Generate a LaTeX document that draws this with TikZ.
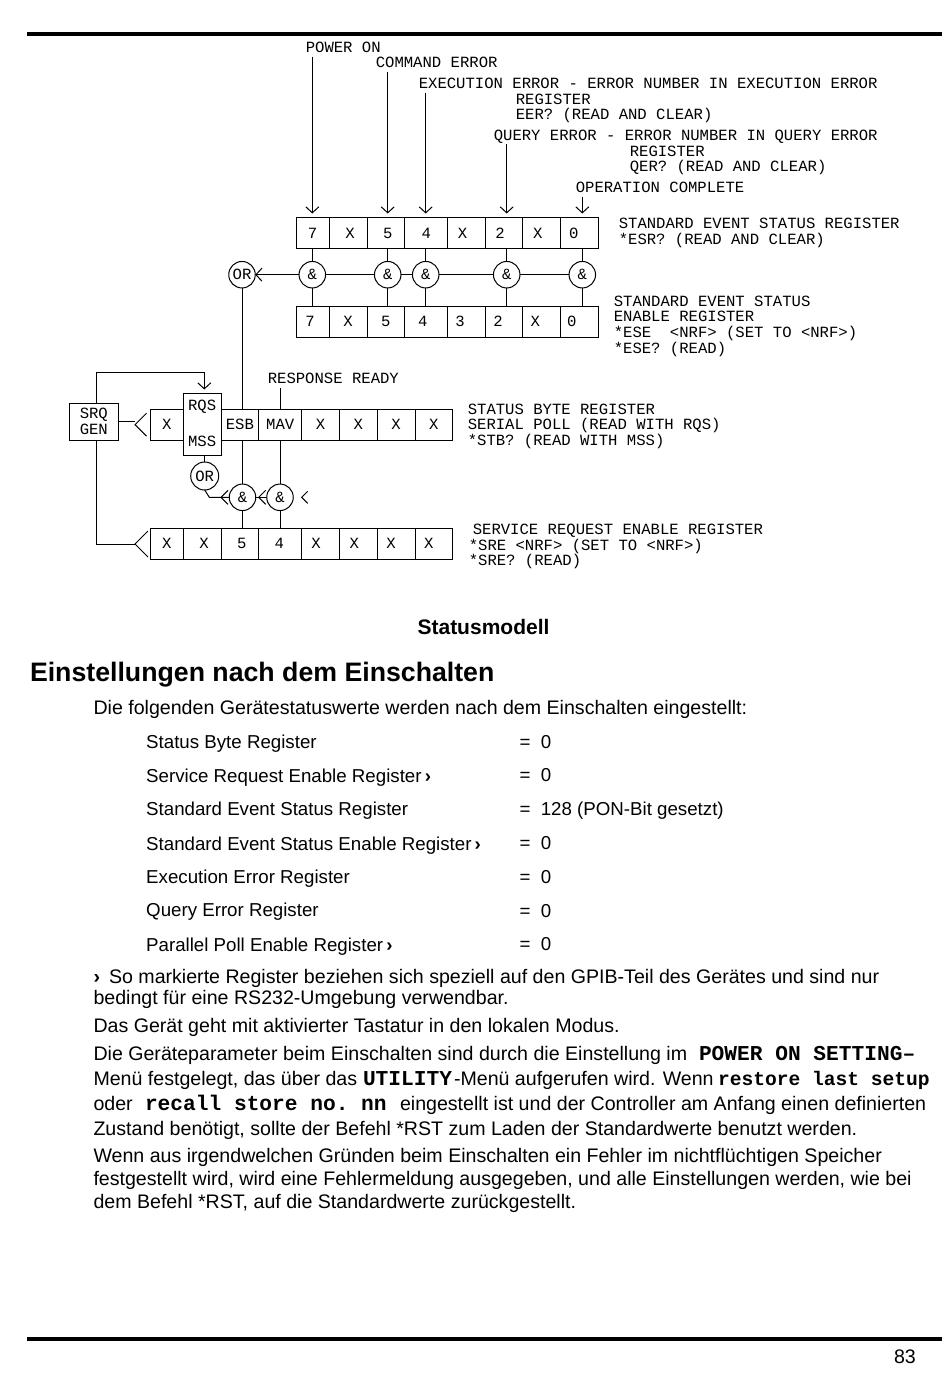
\documentclass[tikz,border=0pt]{standalone}
\usepackage{fontspec}
\setmainfont{Liberation Sans}
\setmonofont{Liberation Mono}
\usetikzlibrary{positioning, arrows.meta}
\newcommand{\dgmfont}{\fontsize{15.6}{16}\selectfont\ttfamily}
\newcommand{\menufont}{\fontsize{21.2}{24}\selectfont\ttfamily\bfseries}
\newcommand{\menusmall}{\fontsize{19.6}{24}\selectfont\ttfamily\bfseries}

\begin{document}
\begin{tikzpicture}[
  x=1pt, y=-1pt,
  line width=1pt,
  tallcell/.style={draw, outer sep=0pt, inner sep=0pt, minimum width=#1, font=\dgmfont, align=center},
  cell/.style={tallcell=#1, minimum height=31pt, text height=10pt, text depth=0pt},
  gate/.style={draw, circle, outer sep=0pt, inner sep=0pt, minimum size=26.5pt, font=\dgmfont},
  dgmtext/.style={anchor=base west, inner sep=0pt, font=\dgmfont},
  listtext/.style={anchor=base west, inner sep=0pt, font=\fontsize{18.7}{22}\selectfont},
  bodytext/.style={anchor=base west, inner sep=0pt, font=\fontsize{19.6}{22}\selectfont},
  vee/.style={-{Straight Barb[length=6pt, width=13pt]}},
  barb/.pic={\draw (#1,-#1) -- (0,0) -- (#1,#1);}
]
\useasboundingbox (0,0) rectangle (950,1387);

% rules
\coordinate (topl) at (27,34);
\coordinate (topr) at (942,34);
\coordinate (botl) at (27,1339);
\coordinate (botr) at (942,1339);
\draw[line width=4pt] (topl) -- (topr);
\draw[line width=4pt] (botl) -- (botr);

% standard event status register
\node[cell=32.7pt, anchor=west] (esr7) at (296.3,233) {7};
\node[cell=38pt, right=0pt of esr7] (esr6) {\kern4pt X};
\node[cell=37.7pt, right=0pt of esr6] (esr5) {\kern4pt 5};
\node[cell=43pt, right=0pt of esr5] (esr4) {4};
\node[cell=37.6pt, right=0pt of esr4] (esr3) {X\kern8pt};
\node[cell=37.4pt, right=0pt of esr3] (esr2) {2\kern8pt};
\node[cell=38pt, right=0pt of esr2] (esr1) {X\kern8pt};
\node[cell=38pt, right=0pt of esr1] (esr0) {0\kern12pt};

% enable register
\node[cell=32.7pt, anchor=west] (ese7) at (296.3,321.7) {7\kern5pt};
\node[cell=38pt, right=0pt of ese7] (ese6) {X};
\node[cell=37.7pt, right=0pt of ese6] (ese5) {5};
\node[cell=43pt, right=0pt of ese5] (ese4) {4\kern7pt};
\node[cell=37.6pt, right=0pt of ese4] (ese3) {3\kern13pt};
\node[cell=37.4pt, right=0pt of ese3] (ese2) {2\kern12pt};
\node[cell=38pt, right=0pt of ese2] (ese1) {X\kern13pt};
\node[cell=38pt, right=0pt of ese1] (ese0) {0\kern16pt};

% gates between them
\node[gate] (and7) at (312.3,274.7) {\&};
\node[gate] (and5) at (387.7,274.7) {\&};
\node[gate] (and4) at (425.7,274.7) {\&};
\node[gate] (and2) at (506.7,274.7) {\&};
\node[gate] (and0) at (582.3,274.7) {\&};
\node[gate] (oresb) at (242,274.7) {OR};

% status byte register
\node[cell=33pt, anchor=west] (stb7) at (150.3,424.7) {X};
\node[tallcell=37.7pt, minimum height=62.4pt, text depth=3pt, right=0pt of stb7] (rqs) {RQS\\[20pt]MSS};
\node[cell=37.7pt, right=0pt of rqs] (esb) {ESB};
\node[cell=43pt, right=0pt of esb] (mav) {MAV};
\node[cell=37.6pt, right=0pt of mav] (stb3) {X};
\node[cell=38pt, right=0pt of stb3] (stb2) {X};
\node[cell=37.7pt, right=0pt of stb2] (stb1) {X};
\node[cell=37.7pt, right=0pt of stb1] (stb0) {X};
\node[tallcell=49pt, minimum height=37pt, anchor=west] (srq) at (69.3,421.7) {SRQ\\GEN};

% service request enable register
\node[cell=33pt, anchor=west] (sre7) at (150.3,543.8) {X};
\node[cell=37.7pt, right=0pt of sre7] (sre6) {\kern4pt X};
\node[cell=37.7pt, right=0pt of sre6] (sre5) {\kern4pt 5};
\node[cell=43pt, right=0pt of sre5] (sre4) {4\kern2pt};
\node[cell=37.6pt, right=0pt of sre4] (sre3) {X\kern9pt};
\node[cell=38pt, right=0pt of sre3] (sre2) {X\kern8pt};
\node[cell=37.7pt, right=0pt of sre2] (sre1) {X\kern10pt};
\node[cell=37.7pt, right=0pt of sre1] (sre0) {X\kern10pt};

% gates of the status byte
\node[gate, minimum size=28pt] (orrqs) at (204.7,476) {OR};
\node[gate] (andesb) at (242.5,497.3) {\&};
\node[gate] (andmav) at (280,497.3) {\&};

% labels on top
\node[dgmtext] (pon) at (305.3,52) {POWER ON};
\node[dgmtext] (cme) at (375.3,67.7) {COMMAND ERROR};
\node[dgmtext] (exe) at (418.3,88.3) {EXECUTION ERROR - ERROR NUMBER IN EXECUTION ERROR};
\node[dgmtext] (exea) at (515.3,104) {REGISTER};
\node[dgmtext] (exeb) at (515.3,119.3) {EER? (READ AND CLEAR)};
\node[dgmtext] (qye) at (493.3,140.7) {QUERY ERROR - ERROR NUMBER IN QUERY ERROR};
\node[dgmtext] (qyea) at (629.3,156) {REGISTER};
\node[dgmtext] (qyeb) at (629.3,171.3) {QER? (READ AND CLEAR)};
\node[dgmtext] (opc) at (575.3,192.7) {OPERATION COMPLETE};
\node[dgmtext] (resp) at (267.3,383.5) {RESPONSE READY};

% labels on the right
\node[dgmtext] (esra) at (618.3,228.5) {STANDARD EVENT STATUS REGISTER};
\node[dgmtext] (esrb) at (618.3,244.5) {*ESR? (READ AND CLEAR)};
\node[dgmtext] (esea) at (613.3,306.5) {STANDARD EVENT STATUS};
\node[dgmtext] (eseb) at (613.3,321.5) {ENABLE REGISTER};
\node[dgmtext] (esec) at (613.3,337.5) {*ESE~~<NRF> (SET TO <NRF>)};
\node[dgmtext] (esed) at (613.3,353.5) {*ESE? (READ)};
\node[dgmtext] (stba) at (467.3,414.5) {STATUS BYTE REGISTER};
\node[dgmtext] (stbb) at (467.3,429.5) {SERIAL POLL (READ WITH RQS)};
\node[dgmtext] (stbc) at (467.3,445.5) {*STB? (READ WITH MSS)};
\node[dgmtext] (srea) at (472.3,534.5) {SERVICE REQUEST ENABLE REGISTER};
\node[dgmtext] (sreb) at (468.3,550.5) {*SRE <NRF> (SET TO <NRF>)};
\node[dgmtext] (srec) at (468.3,565.5) {*SRE? (READ)};

% free ends
\coordinate (ponend) at (312.3,56.7);
\coordinate (cmeend) at (387.7,71.7);
\coordinate (exeend) at (425.7,92.7);
\coordinate (qyeend) at (506.7,144.3);
\coordinate (opcend) at (582.3,196.7);
\coordinate (respend) at (280,388);
\coordinate (srqup) at (96.3,372.7);
\coordinate (rqsup) at (204.3,372.7);
\coordinate (forka) at (135,424.7);
\coordinate (forkb) at (135,544);
\coordinate (orbend) at (209.3,497.3);
\coordinate (andtip) at (221,497.3);
\coordinate (andtipb) at (258.7,497.3);
\coordinate (inhib) at (301.7,497.3);

% arrows into the register
\draw[vee, shorten >=4pt] (ponend) -- (and7 |- esr7.north);
\draw[vee, shorten >=4pt] (cmeend) -- (and5 |- esr5.north);
\draw[vee, shorten >=4pt] (exeend) -- (and4 |- esr4.north);
\draw[vee, shorten >=4pt] (qyeend) -- (and2 |- esr2.north);
\draw[vee, shorten >=4pt] (opcend) -- (and0 |- esr0.north);

\draw (and7.north) -- (and7 |- esr7.south);
\draw (and5.north) -- (and5 |- esr5.south);
\draw (and4.north) -- (and4 |- esr4.south);
\draw (and2.north) -- (and2 |- esr2.south);
\draw (and0.north) -- (and0 |- esr0.south);
\draw (and7.south) -- (and7 |- ese7.north);
\draw (and5.south) -- (and5 |- ese5.north);
\draw (and4.south) -- (and4 |- ese4.north);
\draw (and2.south) -- (and2 |- ese2.north);
\draw (and0.south) -- (and0 |- ese0.north);

\draw (and0) -- (and2);
\draw (and2) -- (and4);
\draw (and4) -- (and5);
\draw (and5) -- (and7);
\draw[vee] (and7) -- (oresb);
\draw (oresb.south) -- (oresb |- esb.north);

% status byte wiring
\draw (respend) -- (respend |- mav.north);
\draw (andesb.north) -- (andesb |- esb.south);
\draw (andmav.north) -- (andmav |- mav.south);
\draw (andesb.south) -- (andesb |- sre5.north);
\draw (andmav.south) -- (andmav |- sre4.north);
\draw (orrqs.north) -- (orrqs |- rqs.south);
\draw (orrqs.south) -- (orbend) -- (andesb.west);
\draw (andmav) -- (andesb);
\path (andtip) pic {barb=7pt};
\path (andtipb) pic {barb=7pt};
\path (inhib) pic {barb=6pt};

% SRQ GEN wiring
\draw[vee, shorten >=4pt] (srqup |- srq.north) -- (srqup) -- (rqsup) -- (rqsup |- rqs.north);
\draw (srq.east) -- (srq.east -| forka);
\draw (srqup |- srq.south) -- (srqup |- forkb) -- (forkb);
\path (forka) pic {barb=11.5pt};
\path (forkb) pic {barb=13pt};

% text of the page
\node[anchor=base, inner sep=0pt, font=\fontsize{21}{24}\selectfont\bfseries] (cap) at (483.5,634) {Statusmodell};
\node[anchor=base west, inner sep=0pt, font=\fontsize{26.7}{30}\selectfont\bfseries] (head) at (29.5,681) {Einstellungen nach dem Einschalten};
\node[bodytext] (intro) at (93,714) {Die folgenden Gerätestatuswerte werden nach dem Einschalten eingestellt:};

\node[listtext] (r1) at (145.7,748) {Status Byte Register};
\node[listtext] (r2) at (145.7,782) {Service Request Enable Register\,\textbf{›}};
\node[listtext] (r3) at (145.7,815) {Standard Event Status Register};
\node[listtext] (r4) at (145.7,850) {Standard Event Status Enable Register\,\textbf{›}};
\node[listtext] (r5) at (145.7,883) {Execution Error Register};
\node[listtext] (r6) at (145.7,916) {Query Error Register};
\node[listtext] (r7) at (145.7,951) {Parallel Poll Enable Register\,\textbf{›}};
\node[listtext] (v1) at (519,748) {=\ \ 0};
\node[listtext] (v2) at (519,781) {=\ \ 0};
\node[listtext] (v3) at (519,815) {=\ \ 128 (PON-Bit gesetzt)};
\node[listtext] (v4) at (519,849) {=\ \ 0};
\node[listtext] (v5) at (519,883) {=\ \ 0};
\node[listtext] (v6) at (519,917) {=\ \ 0};
\node[listtext] (v7) at (519,950) {=\ \ 0};

\node[bodytext] (p1) at (93,983) {\textbf{›}\kern9pt So markierte Register beziehen sich speziell auf den GPIB-Teil des Gerätes und sind nur};
\node[bodytext] (p2) at (93,1004) {bedingt für eine RS232-Umgebung verwendbar.};
\node[bodytext] (p3) at (93,1032) {Das Gerät geht mit aktivierter Tastatur in den lokalen Modus.};
\node[bodytext] (p4) at (93,1060) {Die Geräteparameter beim Einschalten sind durch die Einstellung im};
\node[bodytext, font=\menufont] (p4a) at (698.5,1060) {POWER ON SETTING–};
\node[bodytext] (p5) at (93,1085) {Menü festgelegt, das über das};
\node[bodytext, font=\menufont] (p5a) at (362.5,1085) {UTILITY};
\node[bodytext] (p5b) at (453.5,1085) {-Menü aufgerufen wird. Wenn};
\node[bodytext, font=\menusmall] (p5c) at (717.5,1085) {restore last setup};
\node[bodytext] (p6) at (93,1110) {oder};
\node[bodytext, font=\menufont] (p6a) at (144.5,1110) {recall store no. nn};
\node[bodytext] (p6b) at (399.5,1110) {eingestellt ist und der Controller am Anfang einen definierten};
\node[bodytext] (p7) at (93,1135) {Zustand benötigt, sollte der Befehl *RST zum Laden der Standardwerte benutzt werden.};
\node[bodytext] (p8) at (93,1162) {Wenn aus irgendwelchen Gründen beim Einschalten ein Fehler im nichtflüchtigen Speicher};
\node[bodytext] (p9) at (93,1185) {festgestellt wird, wird eine Fehlermeldung ausgegeben, und alle Einstellungen werden, wie bei};
\node[bodytext] (p10) at (93,1208) {dem Befehl *RST, auf die Standardwerte zurückgestellt.};
\node[bodytext] (pageno) at (893.5,1363) {83};
\end{tikzpicture}
\end{document}
